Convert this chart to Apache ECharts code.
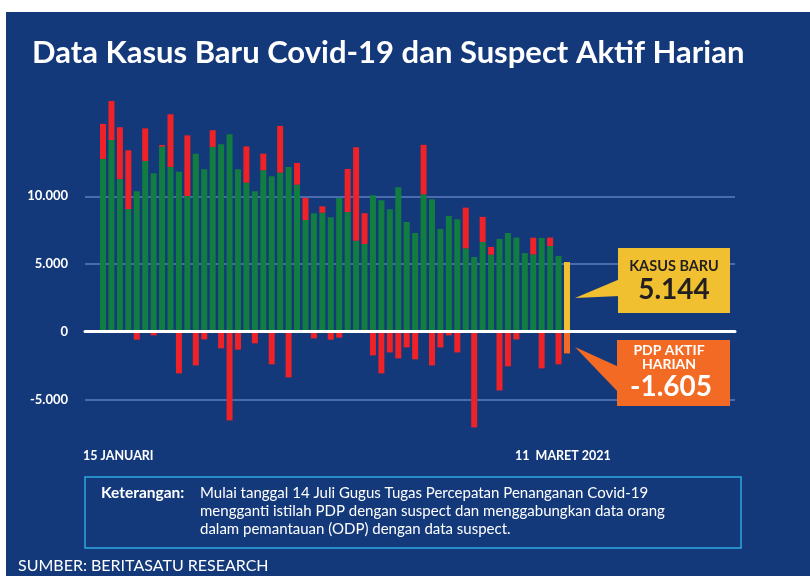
<!DOCTYPE html>
<html>
<head>
<meta charset="utf-8">
<script src="https://cdn.jsdelivr.net/npm/echarts@6/dist/echarts.min.js"></script>
<style>
  html, body { margin: 0; padding: 0; background: #fff; }
  #chart { width: 810px; height: 576px; }
</style>
</head>
<body>
<div id="chart"></div>
<script>
  // 15 Januari - 11 Maret 2021
  const dates = [
    '15 Jan', '16 Jan', '17 Jan', '18 Jan', '19 Jan', '20 Jan', '21 Jan', '22 Jan', '23 Jan', '24 Jan',
    '25 Jan', '26 Jan', '27 Jan', '28 Jan', '29 Jan', '30 Jan', '31 Jan', '1 Feb', '2 Feb', '3 Feb',
    '4 Feb', '5 Feb', '6 Feb', '7 Feb', '8 Feb', '9 Feb', '10 Feb', '11 Feb', '12 Feb', '13 Feb',
    '14 Feb', '15 Feb', '16 Feb', '17 Feb', '18 Feb', '19 Feb', '20 Feb', '21 Feb', '22 Feb', '23 Feb',
    '24 Feb', '25 Feb', '26 Feb', '27 Feb', '28 Feb', '1 Mar', '2 Mar', '3 Mar', '4 Mar', '5 Mar',
    '6 Mar', '7 Mar', '8 Mar', '9 Mar', '10 Mar', '11 Mar'
  ]
  const kasusBaru = [
    12760, 14160, 11280, 9060, 10370, 12610, 11700, 13670, 12170, 11820,
    10020, 13150, 12000, 13650, 13840, 14580, 12000, 11010, 10370, 11920,
    11480, 11750, 12170, 10860, 8250, 8740, 8790, 8450, 9880, 8840,
    6720, 6480, 10070, 9700, 9040, 10670, 8100, 7290, 10150, 9780,
    7590, 8550, 8300, 6160, 5520, 6630, 5690, 6850, 7290, 6950,
    5810, 5710, 6920, 6330, 5590, 5144
  ]
  const suspectAktif = [
    2590, 2880, 3820, 4340, -590, 2410, -270, 120, 3890, -3080,
    4480, -2490, -570, 1230, -1230, -6550, -1330, 2680, -860, 1230,
    -2410, 3450, -3370, 1600, 1630, -490, 470, -590, -440, 3180,
    6900, 2270, -1750, -3080, -1530, -1970, -1160, -2040, 3650, -2490,
    -1160, -270, -1530, 3000, -7070, 1850, 570, -4340, -2560, -570,
    0, 1230, -2710, 620, -2410, -1605
  ]
  const yTicks = [-5000, 0, 5000, 10000]
  const dateLabels = ['15 JANUARI', '11  MARET 2021']

  const BG = '#14397b'
  const GREEN = '#127d40'
  const RED = '#ee2227'
  const YELLOW = '#f0c030'
  const ORANGE = '#f26a23'
  const FONT = 'Lato'

  const fmt = (v) => {
    const s = Math.abs(v).toString().replace(/\B(?=(\d{3})+(?!\d))/g, '.')
    return (v < 0 ? '-' : '') + s
  }

  const last = kasusBaru.length - 1
  const greenData = kasusBaru.map((v, i) => i === last ? { value: v, itemStyle: { color: YELLOW } } : v)
  const redData = suspectAktif.map((v, i) => i === last ? { value: v, itemStyle: { color: ORANGE } } : v)

  const chart = echarts.init(document.getElementById('chart'))
  chart.setOption({
    backgroundColor: BG,
    animation: false,
    grid: [
      // gridlines + zero line
      { left: 85, right: 75, top: 196.3, bottom: 176.6 },
      // bars
      { left: 98.8, right: 238.8, top: 94.75, bottom: 142.75 }
    ],
    xAxis: [
      {
        gridIndex: 0,
        type: 'value',
        min: 0,
        max: 1,
        z: 10,
        axisLine: { show: true, onZero: true, lineStyle: { color: '#fff', width: 3 } },
        axisTick: { show: false },
        axisLabel: { show: false },
        splitLine: { show: false }
      },
      {
        gridIndex: 1,
        type: 'category',
        data: dates,
        axisLine: { show: false },
        axisTick: { show: false },
        axisLabel: { show: false }
      }
    ],
    yAxis: [
      {
        gridIndex: 0,
        type: 'value',
        min: yTicks[0],
        max: yTicks[yTicks.length - 1],
        interval: 5000,
        axisLine: { show: false },
        axisTick: { show: false },
        axisLabel: {
          color: '#fff',
          fontFamily: FONT,
          fontWeight: 'bold',
          fontSize: 13,
          margin: 17,
          formatter: fmt
        },
        splitLine: { lineStyle: { color: '#4a6cae', width: 2 } }
      },
      {
        gridIndex: 1,
        type: 'value',
        min: -7500,
        max: 17500,
        show: false,
        splitLine: { show: false }
      }
    ],
    series: [
      {
        name: 'Kasus Baru',
        type: 'bar',
        xAxisIndex: 1,
        yAxisIndex: 1,
        stack: 'total',
        barWidth: 6,
        itemStyle: { color: GREEN },
        data: greenData
      },
      {
        name: 'Suspect Aktif',
        type: 'bar',
        xAxisIndex: 1,
        yAxisIndex: 1,
        stack: 'total',
        barWidth: 6,
        itemStyle: { color: RED },
        data: redData
      }
    ],
    graphic: [
      // white frame
      { type: 'rect', shape: { x: 0, y: 0, width: 810, height: 12 }, style: { fill: '#fff' }, z: 100 },
      { type: 'rect', shape: { x: 0, y: 0, width: 6, height: 576 }, style: { fill: '#fff' }, z: 100 },
      {
        type: 'text', x: 32, y: 53, z: 100,
        style: {
          text: 'Data Kasus Baru Covid-19 dan Suspect Aktif Harian',
          fill: '#fff', font: 'bold 31px ' + FONT, verticalAlign: 'middle'
        }
      },
      {
        type: 'text', x: 83, y: 456, z: 100,
        style: { text: dateLabels[0], fill: '#fff', font: 'bold 12.5px ' + FONT, verticalAlign: 'middle' }
      },
      {
        type: 'text', x: 515, y: 456, z: 100,
        style: { text: dateLabels[1], fill: '#fff', font: 'bold 12.5px ' + FONT, verticalAlign: 'middle' }
      },
      // callout kasus baru
      {
        type: 'polygon', z: 50,
        shape: { points: [[575, 298], [620, 279], [620, 296]] },
        style: { fill: YELLOW }
      },
      {
        type: 'rect', z: 50,
        shape: { x: 618, y: 248, width: 112, height: 65 },
        style: { fill: YELLOW }
      },
      {
        type: 'text', z: 60, x: 674, y: 266,
        style: { text: 'KASUS BARU', fill: '#231f20', font: 'bold 14.5px ' + FONT, align: 'center', verticalAlign: 'middle' }
      },
      {
        type: 'text', z: 60, x: 674, y: 290,
        style: { text: fmt(kasusBaru[last]), fill: '#231f20', font: 'bold 28px ' + FONT, align: 'center', verticalAlign: 'middle' }
      },
      // callout pdp aktif
      {
        type: 'polygon', z: 50,
        shape: { points: [[575, 347], [619, 367], [619, 393]] },
        style: { fill: ORANGE }
      },
      {
        type: 'rect', z: 50,
        shape: { x: 617, y: 340, width: 113, height: 66 },
        style: { fill: ORANGE }
      },
      {
        type: 'text', z: 60, x: 669, y: 357,
        style: { text: 'PDP AKTIF\nHARIAN', fill: '#fff', font: 'bold 14px ' + FONT, align: 'center', verticalAlign: 'middle', lineHeight: 14 }
      },
      {
        type: 'text', z: 60, x: 671, y: 387,
        style: { text: fmt(suspectAktif[last]), fill: '#fff', font: 'bold 28px ' + FONT, align: 'center', verticalAlign: 'middle' }
      },
      // keterangan
      {
        type: 'rect', z: 50,
        shape: { x: 85, y: 477, width: 656, height: 71 },
        style: { fill: 'none', stroke: '#2ea6df', lineWidth: 1.5 }
      },
      {
        type: 'text', z: 60, x: 101, y: 493,
        style: { text: 'Keterangan:', fill: '#fff', font: 'bold 15.5px ' + FONT, verticalAlign: 'middle' }
      },
      {
        type: 'text', z: 60, x: 200, y: 484,
        style: {
          text: 'Mulai tanggal 14 Juli Gugus Tugas Percepatan Penanganan Covid-19\nmengganti istilah PDP dengan suspect dan menggabungkan data orang\ndalam pemantauan (ODP) dengan data suspect.',
          fill: '#fff', font: '15px ' + FONT, lineHeight: 18
        }
      },
      {
        type: 'text', z: 60, x: 18, y: 566,
        style: { text: 'SUMBER: BERITASATU RESEARCH', fill: '#fff', font: '16px ' + FONT, verticalAlign: 'middle' }
      }
    ]
  })
</script>
</body>
</html>
